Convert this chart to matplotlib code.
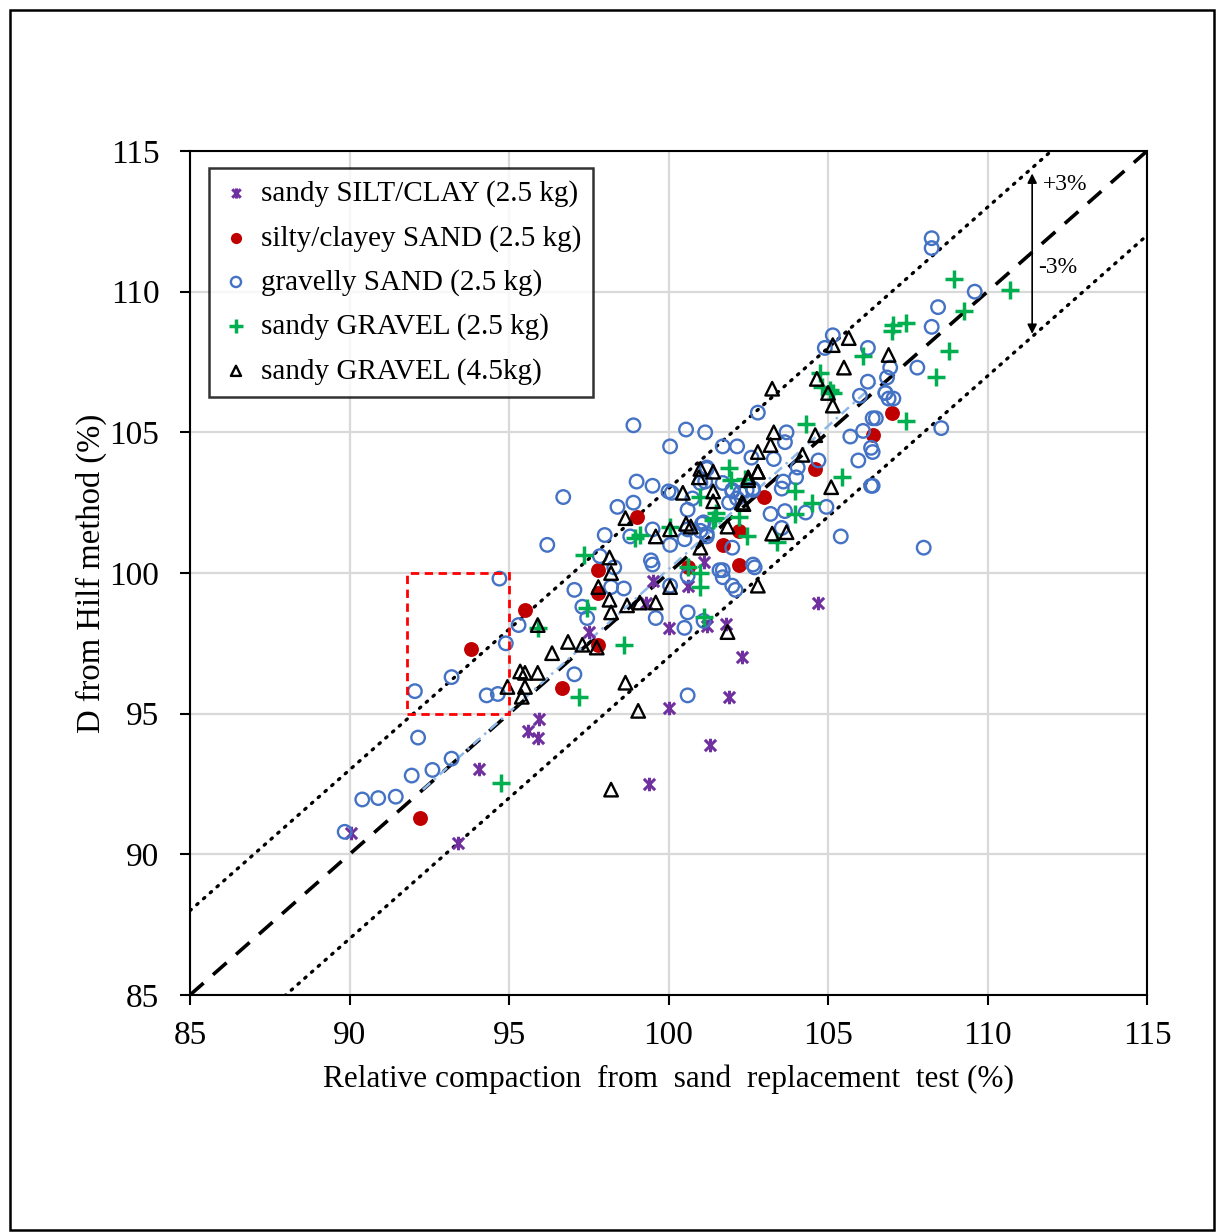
import numpy as np
import matplotlib
matplotlib.use("Agg")
import matplotlib.pyplot as plt
from matplotlib.path import Path
from matplotlib.patches import Rectangle

# =========================
# DATA
# =========================
silt_x = [90.05, 93.4, 94.05, 95.6, 95.9, 95.95, 97.5, 99.4, 100.0, 100.0, 101.3, 101.9,
          102.3, 104.7, 99.5, 100.6, 101.1, 101.8, 101.2, 99.3]
silt_y = [90.75, 90.4, 93.05, 94.4, 94.15, 94.8, 97.9, 92.5, 98.05, 95.2, 93.9, 95.6,
          97.0, 98.95, 99.7, 99.55, 100.4, 98.2, 98.1, 98.95]

sand_x = [92.2, 93.8, 95.5, 96.65, 97.8, 97.8, 97.8, 99.0, 100.6, 101.7, 102.2, 102.2,
          103.0, 104.6, 106.4, 107.0]
sand_y = [91.3, 97.3, 98.7, 95.9, 100.1, 99.3, 97.45, 102.0, 100.2, 101.0, 101.5, 100.3,
          102.7, 103.7, 104.9, 105.7]

gsand_x = [89.85, 90.4, 90.9, 91.45, 91.95, 92.6, 93.2, 92.15, 92.05, 93.2, 94.3, 94.65,
           94.9, 95.3, 94.7, 96.7, 96.2, 99.0, 99.5, 98.4, 98.9, 98.0, 98.8, 99.5,
           100.0, 99.45, 99.5, 100.05, 97.85, 98.3, 97.05, 98.2, 98.6, 97.3, 97.45, 99.6,
           100.6, 100.5, 101.1, 97.05, 100.6, 100.05, 100.6, 101.1, 101.0, 101.2, 100.5, 100.6,
           102.0, 101.7, 101.7, 102.0, 102.1, 102.7, 100.6, 100.75, 100.1, 101.0, 101.2, 102.0,
           102.15, 102.25, 101.9, 102.45, 102.65, 98.9, 100.05, 100.55, 101.15, 101.7, 102.15, 102.8,
           102.6, 103.3, 103.7, 103.65, 101.2, 101.15, 101.7, 102.0, 102.65, 103.6, 103.55, 104.0,
           104.05, 104.7, 103.2, 103.65, 104.3, 104.95, 103.55, 101.05, 101.2, 102.65, 101.6, 105.4,
           106.4, 106.4, 105.95, 105.7, 106.1, 106.4, 106.8, 106.9, 106.0, 106.25, 108.25, 108.25,
           109.6, 108.45, 108.25, 107.8, 108.55, 105.15, 104.9, 106.25, 106.95, 106.85, 106.8, 107.05,
           106.5, 106.35, 108.0, 106.35]
gsand_y = [90.8, 91.95, 92.0, 92.05, 92.8, 93.0, 93.4, 94.15, 95.8, 96.3, 95.65, 95.7,
           97.5, 98.15, 99.8, 102.7, 101.0, 103.25, 103.1, 102.35, 102.5, 101.35, 101.3, 101.55,
           102.9, 100.45, 100.3, 101.0, 100.6, 100.2, 99.4, 99.5, 99.45, 98.8, 98.4, 98.4,
           98.6, 98.05, 98.3, 96.4, 95.65, 99.55, 99.9, 101.8, 101.5, 101.3, 101.2, 101.55,
           100.9, 100.1, 99.85, 99.55, 99.4, 100.2, 102.25, 102.65, 102.85, 103.2, 103.75, 102.9,
           102.65, 102.85, 102.5, 102.95, 102.95, 105.25, 104.5, 105.1, 105.0, 104.5, 104.5, 105.7,
           104.1, 104.05, 105.0, 104.65, 103.7, 103.25, 103.2, 102.95, 103.0, 103.25, 103.0, 103.4,
           103.75, 104.0, 102.1, 102.2, 102.15, 102.35, 101.6, 101.75, 101.4, 100.3, 100.1, 101.3,
           103.1, 104.3, 104.0, 104.85, 105.05, 105.5, 106.4, 106.2, 106.3, 106.8, 111.9, 111.55,
           110.0, 109.45, 108.75, 107.3, 105.15, 108.45, 108.0, 108.0, 107.3, 106.95, 106.4, 106.2,
           105.5, 104.45, 100.9, 103.1]

gravel25_x = [94.75, 97.2, 98.6, 97.35, 97.45, 95.9, 99.1, 98.95, 100.05, 100.6, 101.0, 101.0,
              101.1, 101.4, 101.5, 102.2, 102.45, 101.9, 101.95, 101.0, 104.3, 105.05, 107.45, 105.45,
              104.5, 103.95, 103.95, 103.4, 101.45, 102.4, 104.8, 108.95, 110.7, 109.25, 107.05, 107.45,
              107.0, 108.8, 108.4, 106.1, 104.75, 105.15]
gravel25_y = [92.55, 95.6, 97.45, 100.65, 98.75, 98.05, 101.35, 101.25, 101.65, 100.2, 100.0, 99.5,
              98.45, 101.9, 102.15, 102.0, 101.3, 103.75, 103.3, 102.7, 105.3, 106.5, 105.4, 103.4,
              102.5, 102.9, 102.1, 101.1, 101.95, 103.35, 106.6, 110.45, 110.05, 109.3, 108.8, 108.9,
              108.6, 107.9, 106.95, 107.7, 107.1, 106.4]

gravel45_x = [95.9, 96.35, 95.35, 95.5, 95.9, 94.95, 95.5, 95.4, 98.65, 99.6, 100.05, 100.55,
              101.0, 101.4, 101.4, 101.4, 100.45, 101.0, 101.85, 102.3, 102.5, 102.8, 98.15, 98.2,
              97.8, 98.15, 98.2, 98.7, 99.1, 99.6, 100.05, 102.8, 101.85, 96.85, 97.3, 97.75,
              98.65, 99.05, 98.2, 103.25, 105.0, 105.15, 103.3, 103.2, 102.8, 102.8, 102.5, 100.95,
              102.35, 100.7, 104.2, 104.6, 105.1, 103.25, 103.7, 105.65, 105.15, 105.5, 106.9, 104.65]
gravel45_y = [98.15, 97.15, 96.5, 96.45, 96.45, 95.95, 95.95, 95.6, 101.95, 101.3, 101.55, 101.75,
              103.7, 103.6, 102.9, 102.55, 102.85, 100.9, 101.65, 102.5, 103.3, 103.6, 100.55, 100.0,
              99.5, 99.05, 98.6, 98.85, 98.95, 98.95, 99.5, 99.55, 97.9, 97.55, 97.45, 97.35,
              96.1, 95.1, 92.3, 106.55, 106.4, 105.95, 105.0, 104.55, 104.3, 103.6, 103.4, 103.4,
              102.45, 101.65, 104.2, 104.9, 103.05, 101.4, 101.45, 108.35, 108.1, 107.3, 107.75, 106.9]

labels = ["sandy SILT/CLAY (2.5 kg)", "silty/clayey SAND (2.5 kg)", "gravelly SAND (2.5 kg)",
          "sandy GRAVEL (2.5 kg)", "sandy GRAVEL (4.5kg)"]

trend_x = [92.3, 106.5]
trend_y = [92.3, 106.75]

# =========================
# STYLE
# =========================
plt.rcParams["font.family"] = ["Liberation Serif", "DejaVu Serif"]

# Excel-like "star": an X with a vertical stroke
star = Path([(-1, -1), (1, 1), (-1, 1), (1, -1), (0, -1.2), (0, 1.2)],
            [Path.MOVETO, Path.LINETO, Path.MOVETO, Path.LINETO, Path.MOVETO, Path.LINETO])

fig = plt.figure(figsize=(12.16, 12.32), dpi=100)
ax = fig.add_axes([190 / 1216, 1 - 995 / 1232, 957 / 1216, 844 / 1232])

# guide lines
lim = np.array([85, 115])
ax.plot(lim, lim, color="black", ls=(0, (5, 3.5)), lw=2.6, zorder=2)
ax.plot(lim, lim + 3, color="black", ls=(0, (0.5, 2.2)), lw=2.4, dash_capstyle="round", zorder=2)
ax.plot(lim, lim - 3, color="black", ls=(0, (0.5, 2.2)), lw=2.4, dash_capstyle="round", zorder=2)
ax.plot(trend_x, trend_y, color="#8FB8E8", ls=(0, (4, 2, 1, 2)), lw=1.8, zorder=2)

# series
ax.scatter(silt_x, silt_y, marker=star, s=95, color="#7030A0", lw=2.2, zorder=3, label=labels[0])
ax.scatter(sand_x, sand_y, marker="o", s=115, color="#C00000", lw=0, zorder=3, label=labels[1])
ax.scatter(gsand_x, gsand_y, marker="o", s=95, facecolor="none", edgecolor="#4472C4", lw=1.7,
           zorder=3, label=labels[2])
ax.scatter(gravel25_x, gravel25_y, marker="+", s=160, color="#00B050", lw=2.5, zorder=3, label=labels[3])
ax.scatter(gravel45_x, gravel45_y, marker="^", s=95, facecolor="none", edgecolor="black", lw=1.7,
           zorder=3, label=labels[4])

# red dashed box
ax.add_patch(Rectangle((91.8, 95), 3.2, 5, fill=False, edgecolor="red", ls=(0, (3, 2)), lw=2, zorder=4))

# +/- 3% arrow
ax.annotate("", xy=(111.4, 114.3), xytext=(111.4, 108.4),
            arrowprops=dict(arrowstyle="<|-|>", color="black", lw=1.2, mutation_scale=14))
ax.text(111.75, 113.8, "+3%", fontsize=17, va="center", ha="left")
ax.text(111.6, 110.85, "-3%", fontsize=17, va="center", ha="left")

# axes
ax.set_xlim(85, 115)
ax.set_ylim(85, 115)
ax.set_xticks(np.arange(85, 116, 5))
ax.set_yticks(np.arange(85, 116, 5))
ax.grid(True, color="#D9D9D9", lw=1.6, zorder=0)
ax.set_axisbelow(True)
ax.tick_params(direction="out", length=7, width=1.5, labelsize=24)
ax.tick_params(axis="y", pad=15)
ax.tick_params(axis="x", pad=11)
for sp in ax.spines.values():
    sp.set_color("black")
    sp.set_linewidth(1.5)
ax.set_xlabel("Relative compaction  from  sand  replacement  test (%)", fontsize=22.5, labelpad=10)
ax.set_ylabel("D from Hilf method (%)", fontsize=23.5, labelpad=2)

leg = ax.legend(loc="upper left", bbox_to_anchor=(0.02, 0.98), borderaxespad=0, fontsize=21,
                frameon=True, fancybox=False, edgecolor="black", handletextpad=0.35, handlelength=1.0,
                labelspacing=0.6, borderpad=0.42, markerscale=0.75, scatterpoints=1)
leg.get_frame().set_linewidth(1.8)
leg.set_zorder(5)

# outer frame
fig.patches.append(Rectangle((10 / 1216, 2 / 1232), 1204 / 1216, 1220 / 1232, transform=fig.transFigure,
                             fill=False, edgecolor="black", lw=1.8))

fig.savefig("out.png", dpi=100)
